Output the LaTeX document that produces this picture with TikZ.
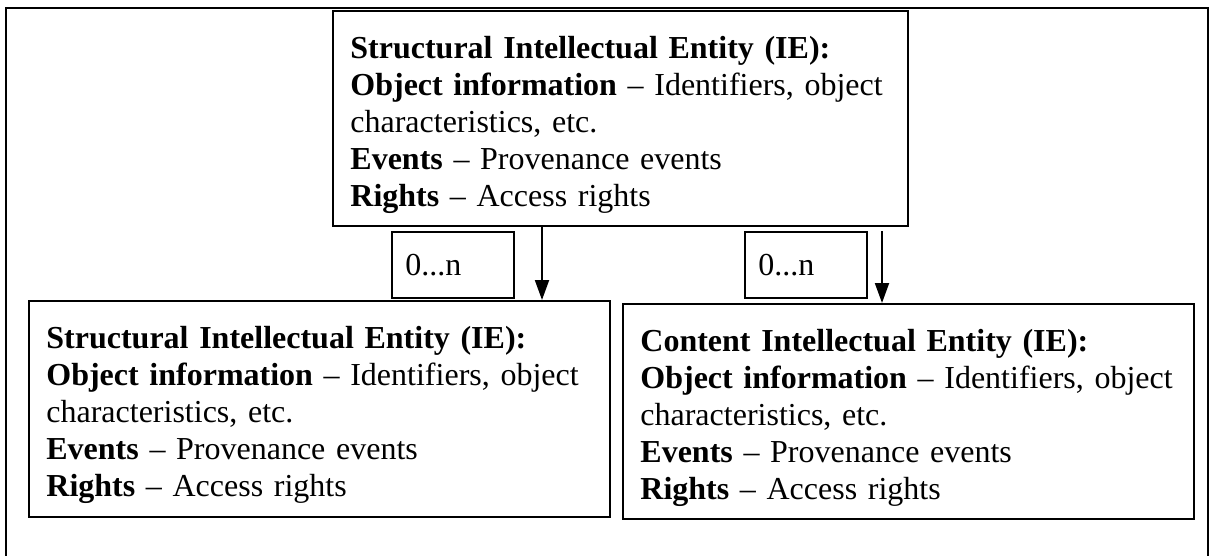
\documentclass[tikz,border=0pt]{standalone}
\usepackage{fontspec}
\setmainfont{Liberation Serif}
\usetikzlibrary{arrows.meta}

\begin{document}
\begin{tikzpicture}[x=0.75pt,y=-0.75pt,
        iebox/.style={draw, line width=1.6pt, anchor=north west, align=left,
            inner xsep=13pt, inner ysep=0pt, font=\fontsize{24}{27.75}\selectfont,
            execute at end node={\vspace*{-9pt}}},
        nbox/.style={draw, line width=1.4pt, anchor=north west, align=left,
            inner xsep=10pt, text width=71.5pt, minimum height=49.5pt,
            font=\fontsize{24}{27.75}\selectfont},
        arr/.style={-{Triangle[length=15pt,width=10.5pt]}, line width=1.5pt}]
        \useasboundingbox (0,0) rectangle (1209,556);
        \draw[line width=1.5pt] (6,556) -- (6,8) -- (1208,8) -- (1208,556);

        \node[iebox, text width=405.25pt, minimum height=161.25pt] (sie) at (332,10)
            {\textbf{Structural Intellectual Entity (IE):}\\
             \textbf{Object information} -- Identifiers, object\\
             characteristics, etc.\\
             \textbf{Events} -- Provenance events\\
             \textbf{Rights} -- Access rights};
        \node[iebox, text width=409.75pt, minimum height=162pt] (subsie) at (28,300)
            {\textbf{Structural Intellectual Entity (IE):}\\
             \textbf{Object information} -- Identifiers, object\\
             characteristics, etc.\\
             \textbf{Events} -- Provenance events\\
             \textbf{Rights} -- Access rights};
        \node[iebox, text width=402.25pt, minimum height=161.25pt] (cie) at (622,303)
            {\textbf{Content Intellectual Entity (IE):}\\
             \textbf{Object information} -- Identifiers, object\\
             characteristics, etc.\\
             \textbf{Events} -- Provenance events\\
             \textbf{Rights} -- Access rights};

        \node[nbox] (nl) at (391,231) {0...n};
        \node[nbox] (nr) at (744,231) {0...n};

        \coordinate (a1) at (542,0);
        \coordinate (a2) at (882,0);
        \draw[arr] (sie.south -| a1) -- (subsie.north -| a1);
        \draw[arr] (nr.north -| a2) -- (cie.north -| a2);
    \end{tikzpicture}
\end{document}
